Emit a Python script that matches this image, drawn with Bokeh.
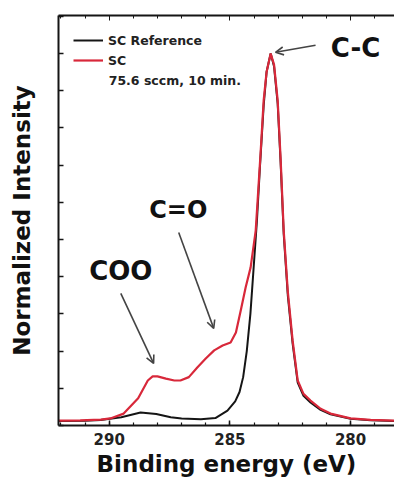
from bokeh.plotting import figure
from bokeh.models import (Range1d, LinearAxis, SingleIntervalTicker, Legend, LegendItem,
                          Arrow, OpenHead, Label, CustomJSTickFormatter)
from bokeh.embed import file_html
from bokeh.resources import INLINE

# ---- data ----
energy_sc = [292.1, 291.2, 290.35, 289.95, 289.4, 288.8, 288.4, 288.2, 288.0, 287.65, 287.3,
             287.05, 286.7, 286.35, 286.0, 285.65, 285.3, 284.97, 284.75, 284.55, 284.35,
             284.14, 283.93, 283.85, 283.73, 283.6, 283.48, 283.31, 283.17, 283.02, 282.9,
             282.77, 282.6, 282.4, 282.19, 281.95, 281.66, 281.24, 280.83, 280.0, 279.17, 278.18]
int_sc = [0.013, 0.014, 0.016, 0.019, 0.032, 0.073, 0.121, 0.132, 0.132, 0.126, 0.121,
          0.121, 0.13, 0.156, 0.18, 0.202, 0.215, 0.223, 0.25, 0.309, 0.37,
          0.425, 0.524, 0.605, 0.73, 0.874, 0.95, 1.0, 0.97, 0.874, 0.72,
          0.524, 0.36, 0.228, 0.121, 0.085, 0.067, 0.045, 0.032, 0.019, 0.015, 0.013]

energy_ref = [292.1, 291.0, 290.35, 289.5, 288.7, 288.05, 287.45, 287.0, 286.2, 285.6, 285.1,
              284.78, 284.6, 284.45, 284.3, 284.15, 284.02, 283.88, 283.75, 283.6, 283.48,
              283.31, 283.17, 283.02, 282.9, 282.77, 282.6, 282.4, 282.19, 281.95, 281.66,
              281.24, 280.83, 280.0, 279.17, 278.18]
int_ref = [0.012, 0.013, 0.015, 0.022, 0.035, 0.031, 0.022, 0.019, 0.017, 0.02, 0.04,
           0.065, 0.09, 0.13, 0.2, 0.3, 0.42, 0.55, 0.7, 0.86, 0.95,
           1.0, 0.965, 0.865, 0.71, 0.515, 0.35, 0.22, 0.115, 0.08, 0.062,
           0.042, 0.03, 0.018, 0.014, 0.012]

series_labels = ["SC Reference", "SC"]
legend_note = "75.6 sccm, 10 min."
x_label = "Binding energy (eV)"
y_label = "Normalized Intensity"

# annotations: text, text position, arrow start, arrow end (data units)
peak_labels = ["C-C", "C=O", "COO"]
peak_label_x = [279.79, 287.14, 289.52]
peak_label_y = [1.015, 0.578, 0.414]
peak_label_size = ["26px", "24px", "26px"]
arrow_x0 = [281.45, 287.12, 289.52]
arrow_y0 = [1.022, 0.519, 0.355]
arrow_x1 = [283.11, 285.67, 288.16]
arrow_y1 = [1.003, 0.261, 0.167]

FONT = "DejaVu Sans"
RED = "#d8283a"
BLACK = "#151515"

p = figure(width=394, height=480, output_backend="svg", toolbar_location=None,
           x_range=Range1d(292.1, 278.18), y_range=Range1d(0, 1.102),
           min_border_left=58, min_border_right=0, min_border_top=15, min_border_bottom=55,
           x_axis_location="below", y_axis_location="left")
p.outline_line_color = None
p.grid.visible = False
p.background_fill_color = "white"
p.border_fill_color = "white"

r_ref = p.line(energy_ref, int_ref, line_color=BLACK, line_width=2)
r_sc = p.line(energy_sc, int_sc, line_color=RED, line_width=2.2)

# axes
xa = p.xaxis[0]
xa.ticker = SingleIntervalTicker(interval=5, num_minor_ticks=5)
ya = p.yaxis[0]
ya.ticker = SingleIntervalTicker(interval=0.1, num_minor_ticks=0)
ya.formatter = CustomJSTickFormatter(code="return ''")
ya.major_label_text_font_size = "0px"

for ax in (xa, ya):
    ax.axis_line_width = 2
    ax.axis_line_color = BLACK
    ax.major_tick_line_color = BLACK
    ax.minor_tick_line_color = BLACK
    ax.major_tick_line_width = 1.5
    ax.minor_tick_line_width = 1.2
    ax.major_tick_in = 5
    ax.major_tick_out = 0
    ax.minor_tick_in = 3
    ax.minor_tick_out = 0
    ax.axis_label_text_font = FONT
    ax.axis_label_text_font_style = "bold"
    ax.axis_label_text_font_size = "23px"
    ax.axis_label_text_color = "#111111"
    ax.major_label_text_font = FONT
    ax.major_label_text_font_style = "bold"
    ax.major_label_text_color = "#222222"

xa.axis_label = x_label
xa.major_label_text_font_size = "15px"
xa.major_label_standoff = 7
xa.axis_label_standoff = 3
ya.axis_label = y_label
ya.axis_label_standoff = 24

top = LinearAxis(ticker=SingleIntervalTicker(interval=5, num_minor_ticks=5),
                 formatter=CustomJSTickFormatter(code="return ''"),
                 major_label_text_font_size="0px", major_label_standoff=0,
                 axis_line_width=2, axis_line_color=BLACK,
                 major_tick_in=5, major_tick_out=0, minor_tick_in=3, minor_tick_out=0,
                 major_tick_line_color=BLACK, minor_tick_line_color=BLACK)
p.add_layout(top, "above")

# legend
legend = Legend(items=[LegendItem(label=series_labels[0], renderers=[r_ref]),
                       LegendItem(label=series_labels[1], renderers=[r_sc])],
                location="top_left", margin=15, padding=0, spacing=0,
                glyph_width=30, glyph_height=20, label_height=20, label_standoff=5,
                label_text_font=FONT, label_text_font_style="bold",
                label_text_font_size="12.5px", label_text_color="#222222",
                border_line_color=None, background_fill_alpha=0)
p.add_layout(legend)

p.add_layout(Label(x=290.02, y=0.927, text=legend_note, text_font=FONT,
                   text_font_style="bold", text_font_size="12.5px",
                   text_color="#222222", text_baseline="middle", text_align="left"))

for t, tx, ty, ts in zip(peak_labels, peak_label_x, peak_label_y, peak_label_size):
    p.add_layout(Label(x=tx, y=ty, text=t, text_font=FONT, text_font_style="bold",
                       text_font_size=ts, text_color="#111111",
                       text_align="center", text_baseline="middle"))

for x0, y0, x1, y1 in zip(arrow_x0, arrow_y0, arrow_x1, arrow_y1):
    p.add_layout(Arrow(x_start=x0, y_start=y0, x_end=x1, y_end=y1,
                       line_color="#444444", line_width=1.6,
                       end=OpenHead(size=8, line_color="#444444", line_width=1.6)))

open("out.html", "w").write(file_html(p, INLINE))
